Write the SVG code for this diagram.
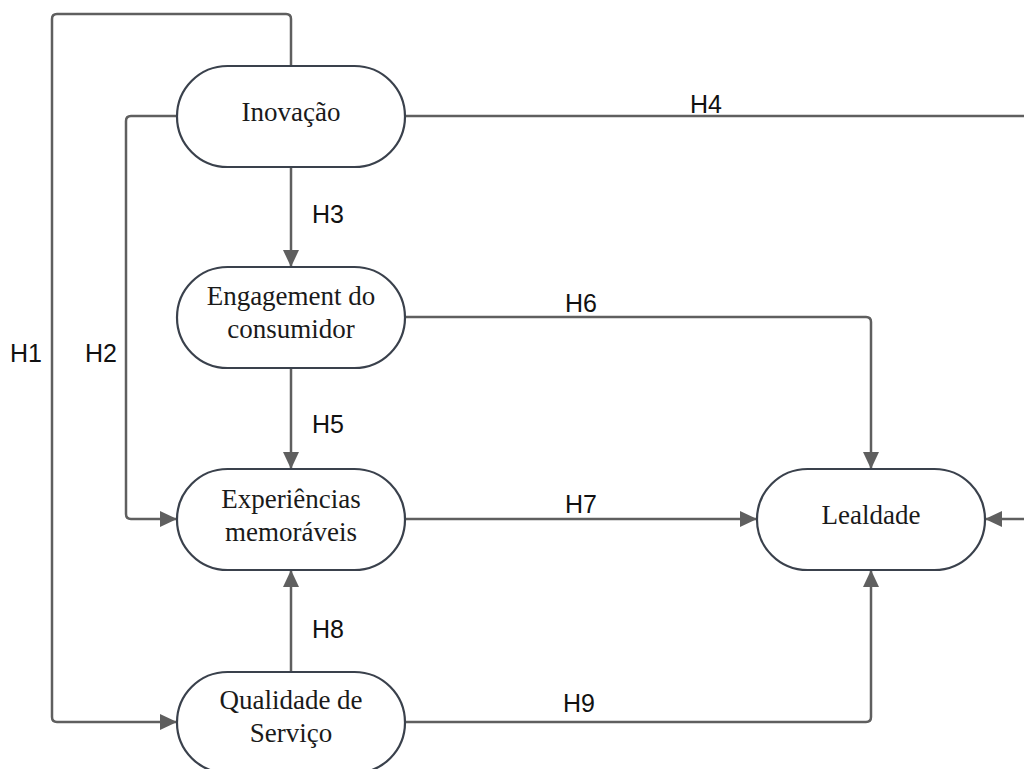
<svg xmlns="http://www.w3.org/2000/svg" width="1024" height="769" viewBox="0 0 1024 769">
<style>
.node{fill:#fff;stroke:#3a414c;stroke-width:2.2}
.nt{font-family:"Liberation Serif","Times New Roman",serif;font-size:27px;fill:#1a1a1a;text-anchor:middle}
.conn{fill:none;stroke:#5f5f5f;stroke-width:2.5}
.lbl{font-family:"Liberation Sans",Arial,sans-serif;font-size:25px;fill:#111}
</style>
<defs>
<marker id="arr" markerUnits="userSpaceOnUse" markerWidth="18" markerHeight="16" refX="17" refY="8" orient="auto">
<path d="M0,0 L17,8 L0,16 z" fill="#5f5f5f"/>
</marker>
</defs>
<rect width="1024" height="769" fill="#fff"/>
<g id="connectors">
<path class="conn" d="M291,66 V19 Q291,14 286,14 H57 Q52,14 52,19 V717 Q52,722 57,722 H177" marker-end="url(#arr)"/>
<path class="conn" d="M177,116 H131 Q126,116 126,121 V514 Q126,519 131,519 H177" marker-end="url(#arr)"/>
<path class="conn" d="M291,167 V267" marker-end="url(#arr)"/>
<path class="conn" d="M405,116 H1040 V519 H985" marker-end="url(#arr)"/>
<path class="conn" d="M291,368 V469" marker-end="url(#arr)"/>
<path class="conn" d="M405,317 H866 Q871,317 871,322 V469" marker-end="url(#arr)"/>
<path class="conn" d="M405,519 H757" marker-end="url(#arr)"/>
<path class="conn" d="M291,672 V570" marker-end="url(#arr)"/>
<path class="conn" d="M405,722 H866 Q871,722 871,717 V570" marker-end="url(#arr)"/>
<text class="lbl" x="10" y="362">H1</text>
<text class="lbl" x="85" y="362">H2</text>
<text class="lbl" x="312" y="223">H3</text>
<text class="lbl" x="690" y="113">H4</text>
<text class="lbl" x="312" y="433">H5</text>
<text class="lbl" x="565" y="312">H6</text>
<text class="lbl" x="565" y="513">H7</text>
<text class="lbl" x="312" y="638">H8</text>
<text class="lbl" x="563" y="712">H9</text>
</g>
<g id="inovacao">
<rect class="node" x="177" y="66" width="228" height="101" rx="50.5"/>
<text class="nt" x="291" y="121">Inovação</text>
</g>
<g id="engagement">
<rect class="node" x="177" y="267" width="228" height="101" rx="50.5"/>
<text class="nt" x="291" y="305">Engagement do</text>
<text class="nt" x="291" y="338">consumidor</text>
</g>
<g id="experiencias">
<rect class="node" x="177" y="469" width="228" height="101" rx="50.5"/>
<text class="nt" x="291" y="508">Experiências</text>
<text class="nt" x="291" y="541">memoráveis</text>
</g>
<g id="qualidade">
<rect class="node" x="177" y="672" width="228" height="101" rx="50.5"/>
<text class="nt" x="291" y="709">Qualidade de</text>
<text class="nt" x="291" y="742">Serviço</text>
</g>
<g id="lealdade">
<rect class="node" x="757" y="469" width="228" height="101" rx="50.5"/>
<text class="nt" x="871" y="524">Lealdade</text>
</g>
</svg>
